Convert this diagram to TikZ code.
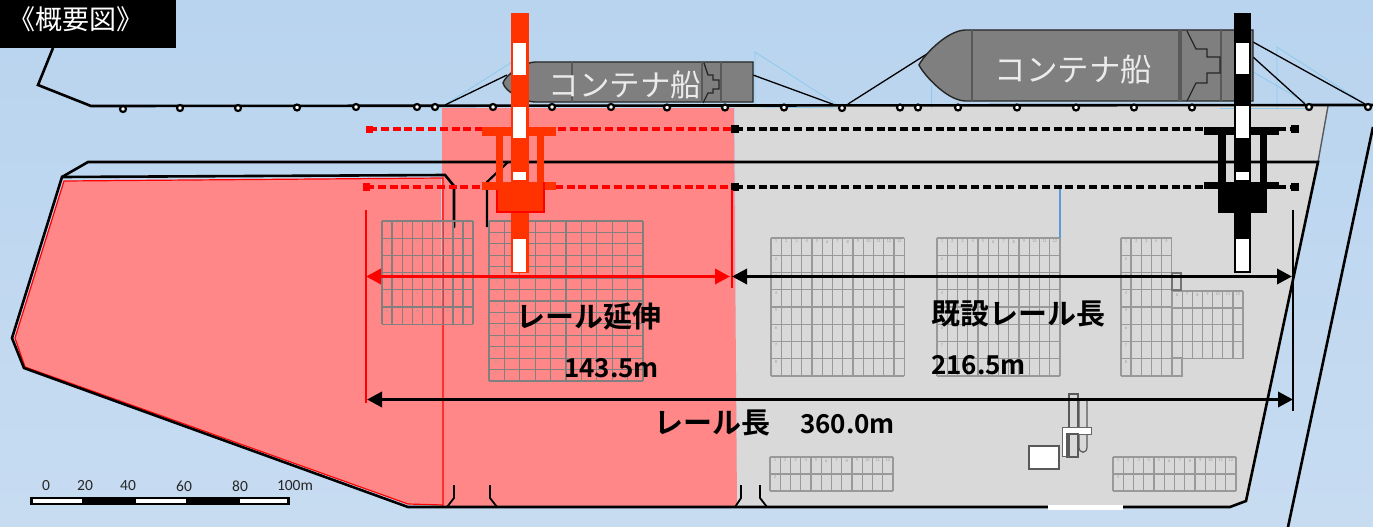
\documentclass[tikz,border=0pt]{standalone}
\usepackage{fontspec}
\setmainfont{Carlito}
\newfontfamily\jp{Noto Sans CJK JP}
\newfontfamily\jpb{Noto Sans CJK JP Bold}
\usetikzlibrary{arrows.meta}
\definecolor{seatop}{HTML}{B9D4EF}
\definecolor{seamid}{HTML}{B0CFEB}
\definecolor{seabot}{HTML}{C7DCF1}
\definecolor{landgray}{HTML}{D9D9D9}
\definecolor{extred}{HTML}{FF8787}
\definecolor{craneorange}{HTML}{FF3300}
\definecolor{hullgray}{HTML}{7F7F7F}
\definecolor{moorblue}{HTML}{8CCBEB}
\definecolor{pipeblue}{HTML}{5B9BD5}
\tikzset{
  outline/.style={draw=black,line width=2.6pt,line join=miter},
  thinred/.style={draw=red,line width=1.2pt},
  railline/.style={line width=3.3pt,dash pattern=on 8pt off 3.8pt},
  dimred/.style={draw=red,line width=3.4pt,{Triangle[length=15pt,width=15pt]}-{Triangle[length=15pt,width=15pt]}},
  dimblack/.style={draw=black,line width=3.4pt,{Triangle[length=15pt,width=15pt]}-{Triangle[length=15pt,width=15pt]}},
  bollard/.style={circle,draw=black,fill=white,line width=2.2pt,inner sep=0pt,minimum size=6pt},
  hull/.style={fill=hullgray,draw=black!85,line width=1.4pt},
  hullline/.style={draw=black!65,line width=1.2pt},
  moorline/.style={draw=black,line width=1.3pt},
  moorghost/.style={draw=moorblue,line width=.8pt},
  shiplabel/.style={text=white!92!black,inner sep=0pt},
  biglabel/.style={text=black,font=\jpb\fontsize{29}{32}\selectfont,inner sep=0pt},
  numlabel/.style={text=black,font=\jpb\fontsize{26}{29}\selectfont,inner sep=0pt},
  scalelabel/.style={text=black!85,font=\fontsize{15.5}{17}\selectfont,inner sep=0pt},
  cellnum/.style={text=black!38,font=\fontsize{4.5}{5}\selectfont,inner sep=0pt},
  mach/.style={draw=black!65,line width=1.2pt},
}
% x, y, cols, rows, cell w, cell h, colour
\newcommand\ygrid[7]{%
  \foreach \i in {0,...,#3}{\draw[#7,line width=1.25pt] ({#1+\i*#5},#2) -- ({#1+\i*#5},{#2+#4*#6});}
  \foreach \j in {0,...,#4}{\draw[#7,line width=1.25pt] (#1,{#2+\j*#6}) -- ({#1+#3*#5},{#2+\j*#6});}
}
\newcommand\ycols[5]{% x,y,cols,w,prefix
  \foreach \i in {1,...,#3}{\node[cellnum] (#5c\i) at ({#1+(\i-.5)*#4},{#2+3.5}) {\i};}
}
\newcommand\yrows[6]{% x,y,rows,h,w,prefix
  \foreach \j in {2,...,#3}{\node[cellnum] (#6r\j) at ({#1+.5*#5},{#2+(\j-1)*#4+3.5}) {\j};}
}
\begin{document}
\begin{tikzpicture}[x=1pt,y=-1pt]
\useasboundingbox (0,0) rectangle (1373,527);
% sea
\shade[top color=seatop,middle color=seamid,bottom color=seabot] (0,0) rectangle (1373,527);
% land
\fill[landgray] (735,106) -- (1328,106) -- (1248,502) -- (1230,507) -- (737,507) -- cycle;
% extension
\fill[extred] (442,108) -- (734,108) -- (737,506) -- (442,506) -- cycle;
\fill[extred] (64,181) -- (441,178) -- (443,505) -- (408,504) -- (25,367) -- (15,338) -- cycle;
\draw[thinred] (443,178) -- (64,181) -- (15,338) -- (25,367) -- (408,504) -- (443,505) -- cycle;
% shore outlines
\draw[draw=black!65,line width=1.4pt] (1328,106) -- (1318,162);
\draw[outline] (62,177) -- (88,162) -- (1318,162) -- (1246,501) -- (1230,507) -- (1123,507);
\draw[outline,line cap=round] (1048,507) -- (408,507) -- (24,368) -- (12,338) -- (62,177) -- (445,175) -- (454,186) -- (454,227);
\draw[draw=white,line width=5pt] (1048,507) -- (1123,507);
\draw[outline] (1373,127) -- (1288,527);
\draw[draw=black,line width=2.2pt] (508,162) -- (487,182) -- (487,227);
\foreach \a/\b/\c in {454/454/447,490/490/497,741/741/735,760/760/767}{
  \draw[draw=black,line width=1.8pt] (\a,485) -- (\b,498) -- (\c,507);
}
% grids
\ygrid{382}{221}{3}{6}{10.1}{17.2}{black!50}
\ygrid{412.4}{221}{3}{6}{10.1}{17.2}{black!50}
\ygrid{442.8}{221}{3}{6}{10.1}{17.2}{black!50}
\foreach \xx/\nm in {382/ga,412.4/gb,442.8/gc}{
  \ycols{\xx}{221}{3}{10.1}{\nm}
  \yrows{\xx}{221}{6}{17.2}{10.1}{\nm}
}
\ygrid{489}{221}{10}{14}{15.4}{11.43}{black!50}
\yrows{489}{221}{14}{11.43}{15.4}{gd}
\ygrid{771}{238}{13}{8}{10.25}{17.25}{black!40}
\ycols{771}{238}{13}{10.25}{ge}
\yrows{771}{238}{8}{17.25}{10.25}{ge}
\ygrid{937}{238}{12}{8}{10.25}{17.25}{black!40}
\ycols{937}{238}{12}{10.25}{gf}
\yrows{937}{238}{8}{17.25}{10.25}{gf}
\ygrid{1121}{238}{5}{8}{10.1}{17.25}{black!40}
\ycols{1121}{238}{5}{10.1}{gg}
\yrows{1121}{238}{8}{17.25}{10.1}{gg}
\ygrid{1172}{291}{7}{4}{10.15}{16.9}{black!40}
\foreach \i/\t in {1/6,2/7,3/8,4/9,5/10,6/11,7/12}{\node[cellnum] (gh\i) at ({1172+(\i-.5)*10.15},294.5) {\t};}
\draw[black!40,line width=1.25pt] (1172,358) rectangle (1182,376);
\draw[black!55,line width=1.1pt] (1172,273) rectangle (1181,290);
\ygrid{770}{457}{12}{2}{10.25}{17}{black!40}
\ycols{770}{457}{12}{10.25}{gi}
\yrows{770}{457}{2}{17}{10.25}{gi}
\ygrid{1113}{457}{12}{2}{10.25}{17}{black!40}
\ycols{1113}{457}{12}{10.25}{gj}
\yrows{1113}{457}{2}{17}{10.25}{gj}
% blue pipe
\draw[draw=pipeblue,line width=1.6pt] (1060,187) -- (1060,238);
% machinery
\draw[mach,fill=white] (1029,446) rectangle (1059,469);
\draw[mach] (1069,394) rectangle (1078,457);
\draw[mach] (1079,401) -- (1079,447) .. controls (1079,454) and (1087,454) .. (1087,447) -- (1087,401);
\fill[white] (1062,427) rectangle (1091,434);
\fill[white] (1062,427) rectangle (1067,456);
\draw[draw=black!60,line width=.9pt] (1067,456) -- (1062,456) -- (1062,427) -- (1091,427) -- (1091,434) -- (1067,434) -- cycle;
\draw[mach] (1067,434) rectangle (1078,457);
% mooring ghosts
\draw[moorghost] (443,106) -- (512,62);
\draw[moorghost] (755,107) -- (755,52) -- (836,104);
\draw[moorghost] (755,107) -- (842,108);
\draw[moorghost] (931,108) -- (931,85);
\draw[moorghost] (1277,108) -- (1277,47) -- (1365,104);
\draw[moorghost] (1253,72) -- (1305,102);
\draw[moorghost] (1220,108) -- (1305,108);
% quay line
\draw[outline,line join=miter] (53,48) -- (38,85) -- (91,106) -- (1373,105);
% ships
\draw[moorline] (445,105) -- (507,75);
\draw[moorline] (753,75) -- (835,105);
\draw[moorline] (848,104) -- (930,52);
\draw[moorline] (1253,42) -- (1365,104);
\draw[moorline] (1253,57) -- (1305,104);
\draw[hull] (503,83) .. controls (505,75) and (525,62) .. (535,62) -- (753,62) -- (753,102) -- (535,102) .. controls (525,102) and (505,92) .. (503,83) -- cycle;
\draw[hullline] (572,62) -- (572,102) (702,62) -- (702,102) (721,62) -- (721,102);
\draw[draw=black!85,line width=1.3pt] (704,63) -- (708,75) -- (713,75) -- (713,80) -- (719,80) -- (719,89) -- (713,89) -- (713,93) -- (708,93) -- (703,103);
\node[shiplabel,font=\jp\fontsize{30.5}{33}\selectfont] (shipa) at (625,84.5) {コンテナ船};
\draw[hull] (919,65) .. controls (922,58) and (945,31) .. (965,30) -- (1253,30) -- (1253,101) -- (965,101) .. controls (945,100) and (922,72) .. (919,65) -- cycle;
\draw[hullline] (972,30) -- (972,101) (1179,30) -- (1179,101) (1181,30) -- (1181,101) (1221,30) -- (1221,101);
\draw[draw=black!85,line width=1.3pt] (1187,31) -- (1196,49) -- (1207,49) -- (1207,57) -- (1220,57) -- (1220,73) -- (1207,73) -- (1207,83) -- (1196,83) -- (1187,101);
\node[shiplabel,font=\jp\fontsize{31.5}{34}\selectfont] (shipb) at (1073.5,70) {コンテナ船};
% bollards
\foreach \n/\x/\y in {1/123/109,2/180/108,3/238/108,4/297/107.5,5/356/107,6/417/107,7/435/107,8/493/107,9/552/107,10/611/107,11/667/107.5,12/725/107.5,13/784/107.5,14/842/108,15/900/107.5,16/918/107.5,17/958/107.5,18/1017/107.5,19/1076/107.5,20/1134/107.5,21/1192/107.5,22/1309/107,23/1368/107}{
  \node[bollard] (bol\n) at (\x,\y) {};
}
% rails
\coordinate (ra) at (369,129); \coordinate (rb) at (735,129); \coordinate (rc) at (1295,129);
\coordinate (rd) at (366,187); \coordinate (re) at (735,187); \coordinate (rf) at (1295,187);
\draw[railline,draw=red] (ra) -- (rb);
\draw[railline,draw=red] (rd) -- (re);
\draw[railline,draw=black] (rb) -- (rc);
\draw[railline,draw=black] (re) -- (rf);
\fill[red] (365.5,125.5) rectangle +(7,7);
\fill[red] (362.5,183) rectangle +(7.5,8);
\fill[black] (731,125) rectangle +(8,8);
\fill[black] (730.5,183) rectangle +(8,8);
\fill[black] (1291,125) rectangle +(8,8);
\fill[black] (1291,183) rectangle +(8,8);
% red crane
\fill[craneorange] (482,127) rectangle (556,136);
\fill[craneorange] (482,182) rectangle (556,190);
\fill[craneorange] (496,136) rectangle (503,182);
\fill[craneorange] (537,136) rectangle (544,182);
\fill[craneorange] (511,13) rectangle (529,273);
\fill[craneorange] (497,182) rectangle (544,212);
\draw[draw=red,line width=1.4pt] (497,190) -- (497,212) -- (544,212) -- (544,182);
\foreach \a/\b in {43/75,107/138,172/180,239/272}{\fill[white] (513,\a) rectangle (526,\b);}
% black crane
\fill[black] (1204,127) rectangle (1279,135);
\fill[black] (1204,182) rectangle (1279,189);
\fill[black] (1218,135) rectangle (1226,182);
\fill[black] (1260,135) rectangle (1267,182);
\fill[black] (1234,13) rectangle (1251,273);
\fill[black] (1218,182) rectangle (1267,213);
\foreach \a/\b in {43/74,106/138,172/180,239/271}{\fill[white] (1236,\a) rectangle (1249,\b);}
% dimension ends
\coordinate (da) at (366,276.5); \coordinate (db) at (730,276.5); \coordinate (dc) at (732,276.5); \coordinate (dd) at (1292,276.5);
\coordinate (de) at (367,399.5); \coordinate (df) at (1293,399.5);
\draw[draw=red,line width=2pt] (365.5,210) -- (365.5,403);
\draw[draw=red,line width=2pt] (731.5,190) -- (731.5,288);
\draw[draw=black,line width=1.6pt] (1293,210) -- (1293,411);
\draw[dimred] (da) -- (db);
\draw[dimblack] (dc) -- (dd);
\draw[dimblack] (de) -- (df);
% labels
\node[biglabel] (lext) at (588.5,317) {レール延伸};
\node[numlabel] (next) at (611.5,368) {143.5m};
\node[biglabel] (lold) at (1018.5,314) {既設レール長};
\node[numlabel] (nold) at (978.5,365) {216.5m};
\node[biglabel] (lall) at (712.5,423) {レール長};
\node[numlabel] (nall) at (847.5,424) {360.0m};
% title
\fill[black] (0,0) rectangle (176,48);
\node[text=white,font=\jp\fontsize{27}{30}\selectfont,inner sep=0pt] (title) at (76,19) {《概要図》};
% scale bar
\fill[black] (30,497) rectangle (290,505);
\foreach \a/\b in {33/82,136/186,240/287}{\fill[white] (\a,499) rectangle (\b,503);}
\foreach \n/\x/\t in {0/46/0,20/85/20,40/128/40,60/184/60,80/240/80,100/295/100m}{
  \node[scalelabel] (sc\n) at (\x,486) {\t};
}
\end{tikzpicture}
\end{document}
